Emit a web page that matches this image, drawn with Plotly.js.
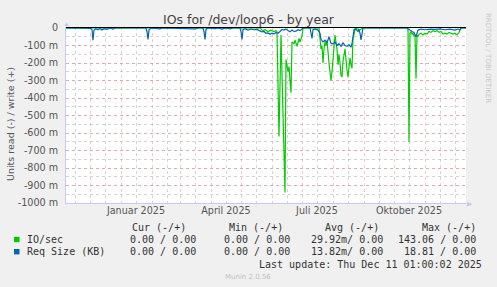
<!DOCTYPE html>
<html>
<head>
<meta charset="utf-8">
<script src="https://cdn.plot.ly/plotly-3.0.1.min.js"></script>
<style>html,body{margin:0;padding:0;background:#f0f0f0;}#chart{width:497px;height:287px;}</style>
</head>
<body>
<div id="chart"></div>
<script>
// ---- data (day offsets from the graph start, values in units; -0.1 = -100 m) ----
const graphStart = '2024-11-06 01:00:00';
const graphEnd = '2025-12-11 01:00:00';

const ioDays = [0,194,195,197,199,202,205,208,210,211,213,215,219,220,222,223,224,225,226,228,229,231,233,234,236,237,
  253,254,255,256,257,258,259,260,261,263,265,266,267,268,269,271,272,273,274,275,276,277,279,280,281,282,283,284,285,286,287,288,289,291,294,297,
  341,342,343,344,345,346,347,348,349,350,351,352,353,355,357,359,361,363,365,367,369,371,373,375,377,379,381,383,385,387,389,391,393,394,395,400];
const ioRead = [0,0,-0.005,-0.015,-0.01,-0.02,-0.012,-0.02,-0.015,-0.02,-0.62,-0.04,-0.94,-0.18,-0.25,-0.22,-0.30,-0.37,-0.08,-0.09,-0.07,-0.105,-0.06,-0.08,-0.045,0,
  0,-0.09,-0.12,-0.10,-0.20,-0.12,-0.08,-0.10,-0.07,-0.20,-0.30,-0.25,-0.14,-0.11,-0.04,-0.12,-0.21,-0.15,-0.20,-0.27,-0.28,-0.19,-0.12,-0.20,-0.24,-0.28,-0.20,-0.17,-0.21,-0.23,-0.06,-0.04,0,-0.005,-0.01,0,
  0,-0.01,-0.65,-0.03,-0.02,-0.035,-0.03,-0.045,-0.04,-0.29,-0.04,-0.05,-0.035,-0.03,-0.04,-0.03,-0.035,-0.02,-0.025,-0.015,-0.02,-0.015,-0.025,-0.02,-0.035,-0.03,-0.035,-0.025,-0.03,-0.035,-0.03,-0.04,-0.025,-0.01,0,0];

const reqDays = [0,22,25,26,27,28,30,32,34,36,38,41,44,47,49,80,81,82,83,85,94,96,129,132,137,138,139,140,142,149,152,156,160,164,167,174,175,176,177,179,182,185,188,191,194,196,198,200,202,204,206,208,210,212,214,216,218,220,222,224,226,228,230,232,234,236,237,
  244,245,246,247,249,252,254,255,257,259,261,263,265,267,269,271,273,275,277,279,281,283,285,286,287,288,290,292,293,294,295,296,297,
  341,342,344,346,348,349,350,351,352,355,359,364,369,374,379,384,389,392,394,395,400];
const reqRead = [0,0,-0.002,-0.01,-0.07,-0.012,-0.004,-0.01,-0.003,-0.012,-0.004,-0.008,0,-0.006,0,0,-0.02,-0.065,-0.01,0,-0.005,0,-0.005,0,0,-0.02,-0.066,-0.008,0,-0.004,0,-0.006,0,-0.005,0,0,-0.02,-0.066,-0.01,-0.004,-0.012,-0.006,-0.01,-0.008,-0.016,-0.022,-0.02,-0.03,-0.028,-0.036,-0.03,-0.034,-0.026,-0.03,-0.02,-0.008,-0.012,-0.006,-0.015,-0.022,-0.012,-0.02,-0.018,-0.01,-0.015,-0.006,0,
  0,-0.03,-0.06,-0.01,-0.005,-0.012,-0.03,-0.065,-0.08,-0.07,-0.085,-0.05,-0.088,-0.09,-0.08,-0.10,-0.09,-0.105,-0.085,-0.10,-0.105,-0.095,-0.11,-0.09,-0.05,-0.01,-0.008,-0.02,-0.01,-0.03,-0.068,-0.02,0,
  0,-0.005,-0.01,-0.02,-0.025,-0.045,-0.05,-0.03,-0.012,-0.006,-0.01,-0.006,-0.008,-0.005,-0.01,-0.006,-0.012,-0.006,-0.01,0,0];

const monthLabelDates = ['2025-01-15','2025-04-15','2025-07-15','2025-10-15'];
const monthLabels = ['Januar 2025','April 2025','Juli 2025','Oktober 2025'];
const yTickVals = [0,-0.1,-0.2,-0.3,-0.4,-0.5,-0.6,-0.7,-0.8,-0.9,-1.0];
const yTickText = ['0','-100 m','-200 m','-300 m','-400 m','-500 m','-600 m','-700 m','-800 m','-900 m','-1000 m'];

const seriesNames = ['IO/sec','Req Size (KB)'];
const seriesColors = ['#00cc00','#0066b3'];
const tableHeader = ['Cur (-/+)','Min (-/+)','Avg (-/+)','Max (-/+)'];
const tableRows = [
  ['0.00 / 0.00','0.00 / 0.00','29.92m/ 0.00','143.06 / 0.00'],
  ['0.00 / 0.00','0.00 / 0.00','13.82m/ 0.00','18.81 / 0.00']
];
const lastUpdate = 'Last update: Thu Dec 11 01:00:02 2025';

// ---- helpers ----
const t0 = Date.UTC(2024,10,6,1,0,0);
function toDate(d){ return new Date(t0 + d*86400000).toISOString().slice(0,19).replace('T',' '); }
const L = 66, T = 27, W = 400, H = 176;
const PX = p => (p - L)/W;
const PY = p => (T + H - p)/H;

const mono = {family:'DejaVu Sans Mono', size:10, color:'#333'};
const sans = 'DejaVu Sans';

const traces = [
  {x: ioDays.map(toDate), y: ioRead, type:'scatter', mode:'lines', name:seriesNames[0],
   line:{color:seriesColors[0], width:1.2}, xaxis:'x', yaxis:'y', hoverinfo:'skip'},
  {x: reqDays.map(toDate), y: reqRead, type:'scatter', mode:'lines', name:seriesNames[1],
   line:{color:seriesColors[1], width:1.2}, xaxis:'x2', yaxis:'y', hoverinfo:'skip'}
];

const annotations = [];
annotations.push({text:'Units read (-) / write (+)', xref:'paper', yref:'paper', x:PX(10), y:PY(124),
  xanchor:'center', yanchor:'middle', textangle:-90, showarrow:false, font:{family:sans, size:9.5, color:'#555'}});
annotations.push({text:'RRDTOOL / TOBI OETIKER', xref:'paper', yref:'paper', x:PX(488), y:PY(58),
  xanchor:'center', yanchor:'middle', textangle:90, showarrow:false, font:{family:sans, size:7, color:'#c8c8c8'}});
annotations.push({text:'▲', xref:'paper', yref:'paper', x:PX(66), y:PY(24), xanchor:'center', yanchor:'middle', showarrow:false, font:{size:7, color:'#c8c8f0'}});
annotations.push({text:'▶', xref:'paper', yref:'paper', x:PX(470), y:PY(203), xanchor:'center', yanchor:'middle', showarrow:false, font:{size:7, color:'#c8c8f0'}});
const headRight = [187, 284, 380, 476.5];
const valRight = [197, 291, 383.5, 477];
tableHeader.forEach((h,i)=>annotations.push({text:h, xref:'paper', yref:'paper', x:PX(headRight[i]+1), y:PY(227.7),
  xanchor:'right', yanchor:'middle', showarrow:false, font:mono}));
const rowY = [239.5, 251.7];
tableRows.forEach((row,r)=>{
  annotations.push({text:seriesNames[r], xref:'paper', yref:'paper', x:PX(25), y:PY(rowY[r]),
    xanchor:'left', yanchor:'middle', showarrow:false, font:mono});
  row.forEach((v,i)=>annotations.push({text:v, xref:'paper', yref:'paper', x:PX(valRight[i]+1), y:PY(rowY[r]),
    xanchor:'right', yanchor:'middle', showarrow:false, font:mono}));
});
annotations.push({text:lastUpdate, xref:'paper', yref:'paper', x:PX(483.5), y:PY(264),
  xanchor:'right', yanchor:'middle', showarrow:false, font:mono});
annotations.push({text:'Munin 2.0.56', xref:'paper', yref:'paper', x:PX(248), y:PY(276.5),
  xanchor:'center', yanchor:'middle', showarrow:false, font:{family:sans, size:7, color:'#c0c0c0'}});

const shapes = rowY.map((yy,r)=>({type:'rect', xref:'paper', yref:'paper',
  x0:PX(14), x1:PX(19.5), y0:PY(yy+2.7), y1:PY(yy-2.7), fillcolor:seriesColors[r], line:{width:0}}));

const redGrid = 'rgba(230,120,120,0.42)';
const grayGrid = 'rgba(170,170,170,0.5)';

const layout = {
  width:497, height:287,
  paper_bgcolor:'#f0f0f0', plot_bgcolor:'#ffffff',
  margin:{l:L, r:497-L-W, t:T, b:287-T-H, pad:0},
  showlegend:false,
  title:{text:'IOs for /dev/loop6 - by year', font:{family:sans, size:12.5, color:'#444'},
         x:0.5, xref:'container', xanchor:'center', y:1-19.5/287, yref:'container', yanchor:'middle'},
  xaxis:{type:'date', range:[graphStart, graphEnd], showticklabels:false, ticks:'',
    showgrid:true, gridcolor:redGrid, griddash:'dot', gridwidth:1, dtick:'M1', tick0:'2024-12-01',
    minor:{dtick:'M1', tick0:'2024-11-16', showgrid:true, gridcolor:grayGrid, griddash:'dot', gridwidth:1},
    showline:true, linecolor:'#c8c8f0', linewidth:1, zeroline:false, fixedrange:true},
  xaxis2:{type:'date', overlaying:'x', anchor:'y', side:'bottom', range:[graphStart, graphEnd],
    tickmode:'array', tickvals:monthLabelDates, ticktext:monthLabels, ticks:'', showgrid:false, showline:false, zeroline:false,
    tickfont:{family:sans, size:9.6, color:'#555'}, fixedrange:true},
  yaxis:{range:[-1, 1/H], tickmode:'array', tickvals:yTickVals, ticktext:yTickText, ticks:'',
    tickfont:{family:sans, size:9.6, color:'#555'}, ticklabelstandoff:5,
    showgrid:true, gridcolor:redGrid, griddash:'dot', gridwidth:1,
    minor:{dtick:0.05, tick0:0, showgrid:true, gridcolor:grayGrid, griddash:'dot', gridwidth:1},
    zeroline:true, zerolinecolor:'#000000', zerolinewidth:1, zerolinelayer:'above traces',
    showline:true, linecolor:'#c8c8f0', linewidth:1, fixedrange:true},
  annotations:annotations,
  shapes:shapes
};

Plotly.newPlot('chart', traces, layout, {displayModeBar:false, staticPlot:true});
</script>
</body>
</html>
